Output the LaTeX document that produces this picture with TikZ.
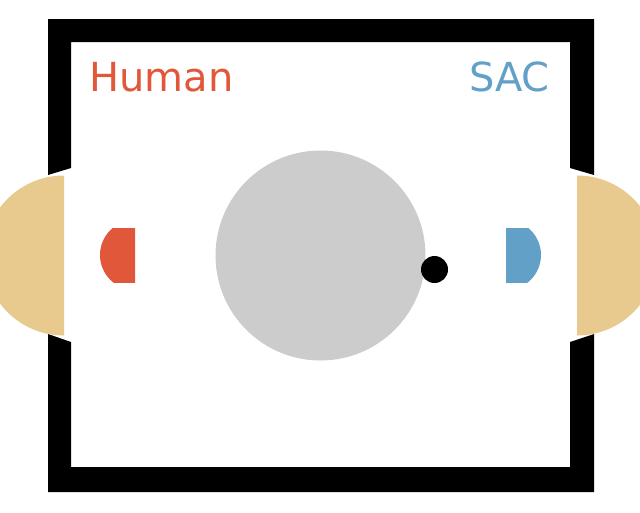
\documentclass[tikz,border=0pt]{standalone}
\usepackage{fontspec}
\setsansfont{DejaVu Sans}
\definecolor{hockeyred}{HTML}{E0573A}
\definecolor{hockeyblue}{HTML}{62A0C8}
\definecolor{hockeygoal}{HTML}{E9CA8E}
\definecolor{hockeypuck}{HTML}{CCCCCC}

\begin{document}
\begin{tikzpicture}[
  x=1pt,y=-1pt,
  font=\sffamily\fontsize{40}{44}\selectfont,
  wall/.style={fill=black},
  goal/.style={fill=hockeygoal},
  tag/.style={inner sep=0pt},
  puck/.style={circle,fill=hockeypuck,inner sep=0pt,minimum size=210pt},
  marker/.style={circle,fill=black,inner sep=0pt,minimum size=27pt}
]
  \clip (0,0) rectangle (640,512);
  % table frame, open at both goals
  \fill[wall] (48,175) -- (48,19) -- (594,19) -- (594,175) -- (570,168)
    -- (570,42) -- (71,42) -- (71,168) -- cycle;
  \fill[wall] (48,334) -- (48,492) -- (594,492) -- (594,334) -- (570,342)
    -- (570,467) -- (71,467) -- (71,342) -- cycle;
  % goals and paddles
  \foreach \gx/\px/\side/\col in {64/135/-1/hockeyred,577/506/1/hockeyblue}{
    \begin{scope}
      \clip (\gx,170) rectangle ++(\side*90,170);
      \fill[goal] (\gx,255.5) circle[radius=80pt];
    \end{scope}
    \begin{scope}
      \clip (\px,228) rectangle ++(\side*36,54);
      \fill[\col] (\px,255) circle[radius=35pt];
    \end{scope}
  }
  \node[puck] (disc) at (320.5,255.5) {};
  \node[marker] (dot) at (434.5,269.5) {};
  \node[tag,text=hockeyred,anchor=base west] (human) at (89,91) {Human};
  \node[tag,text=hockeyblue,anchor=base east] (sac) at (550,91) {SAC};
\end{tikzpicture}
\end{document}
